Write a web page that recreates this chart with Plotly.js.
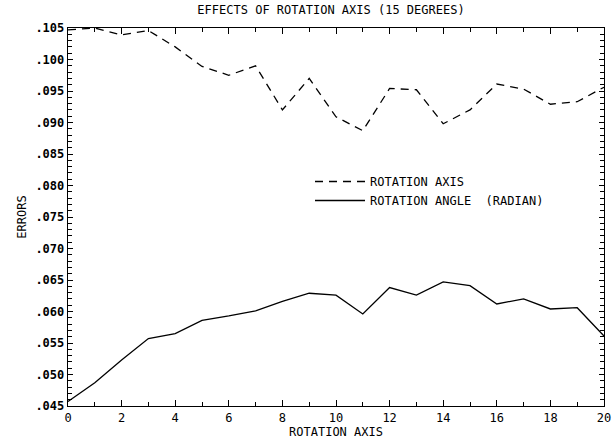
<!DOCTYPE html>
<html>
<head>
<meta charset="utf-8">
<script src="https://cdn.plot.ly/plotly-3.0.1.min.js"></script>
<style>html,body{margin:0;padding:0;background:#fff;}#chart{width:613px;height:443px;}</style>
</head>
<body>
<div id="chart"></div>
<script>
const xValues = [0,1,2,3,4,5,6,7,8,9,10,11,12,13,14,15,16,17,18,19,20];
const rotationAxisErrors = [0.1047,0.1050,0.1039,0.1046,0.1020,0.0989,0.0975,0.0990,0.0920,0.0970,0.0909,0.0887,0.0954,0.0952,0.0898,0.0920,0.0961,0.0953,0.0929,0.0933,0.0956];
const rotationAngleErrors = [0.0457,0.0487,0.0523,0.0557,0.0565,0.0586,0.0593,0.0601,0.0616,0.0629,0.0626,0.0596,0.0638,0.0626,0.0647,0.0641,0.0612,0.0620,0.0604,0.0606,0.0561];
const yTickValues = [0.045,0.050,0.055,0.060,0.065,0.070,0.075,0.080,0.085,0.090,0.095,0.100,0.105];
const yTickLabels = ['.045','.050','.055','.060','.065','.070','.075','.080','.085','.090','.095','.100','.105'];
const xTickValues = [0,2,4,6,8,10,12,14,16,18,20];
const xTickLabels = ['0','2','4','6','8','10','12','14','16','18','20'];
const seriesNames = ['ROTATION AXIS','ROTATION ANGLE  (RADIAN)'];

const mono = 'DejaVu Sans Mono, Liberation Mono, monospace';

const traces = [
  {x: xValues, y: rotationAxisErrors, name: seriesNames[0], mode: 'lines',
   line: {color: '#000', width: 1.3, dash: '8px,6px'}},
  {x: xValues, y: rotationAngleErrors, name: seriesNames[1], mode: 'lines',
   line: {color: '#000', width: 1.3}}
];

const layout = {
  width: 613, height: 443,
  margin: {l: 68, r: 9, t: 28, b: 37},
  paper_bgcolor: '#fff', plot_bgcolor: '#fff',
  font: {family: mono, color: '#000', size: 12},
  title: {text: 'EFFECTS OF ROTATION AXIS (15 DEGREES)', x: 0.54, xanchor: 'center', y: 0.988, yanchor: 'top',
          font: {family: mono, size: 12, color: '#000'}},
  showlegend: true,
  legend: {x: (310-68)/536, xanchor: 'left', y: (406-167)/378, yanchor: 'top',
           bgcolor: 'rgba(0,0,0,0)', borderwidth: 0, itemwidth: 50,
           font: {family: mono, size: 12, color: '#000'}},
  xaxis: {
    range: [0, 20], showgrid: false, zeroline: false,
    showline: true, linecolor: '#000', linewidth: 1.3, mirror: 'ticks',
    tickmode: 'array', tickvals: xTickValues, ticktext: xTickLabels,
    ticks: 'inside', ticklen: 6, tickcolor: '#000', tickwidth: 1,
    minor: {tickmode: 'linear', tick0: 0, dtick: 1, ticks: 'inside', ticklen: 4, tickcolor: '#000', showgrid: false},
    tickfont: {family: mono, size: 12, color: '#000'},
    title: {text: 'ROTATION AXIS', standoff: 3, font: {family: mono, size: 12, color: '#000'}}
  },
  yaxis: {
    range: [0.045, 0.105], showgrid: false, zeroline: false,
    showline: true, linecolor: '#000', linewidth: 1.3, mirror: 'ticks',
    tickmode: 'array', tickvals: yTickValues, ticktext: yTickLabels,
    ticks: 'inside', ticklen: 5, tickcolor: '#000', tickwidth: 1,
    minor: {tickmode: 'linear', tick0: 0.045, dtick: 0.001, ticks: 'inside', ticklen: 4, tickcolor: '#000', showgrid: false},
    tickfont: {family: mono, size: 12, color: '#000', weight: 'bold'},
    title: {text: 'ERRORS', standoff: 6, font: {family: mono, size: 12, color: '#000'}}
  }
};

Plotly.newPlot('chart', traces, layout, {displayModeBar: false, staticPlot: true});
</script>
</body>
</html>
